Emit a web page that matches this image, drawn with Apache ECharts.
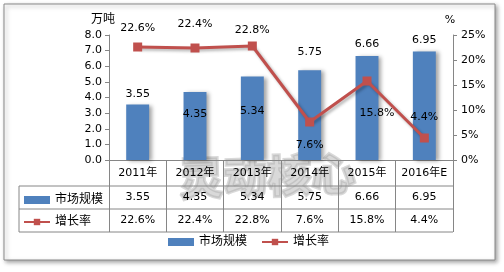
<!DOCTYPE html>
<html><head><meta charset="utf-8">
<script src="https://cdn.jsdelivr.net/npm/echarts@6/dist/echarts.min.js"></script>
<style>html,body{margin:0;padding:0;background:#fff}#c{width:504px;height:272px}</style>
</head><body><div id="c"></div>
<script>
const categories = ['2011年','2012年','2013年','2014年','2015年','2016年E'];
const marketSize = [3.55, 4.35, 5.34, 5.75, 6.66, 6.95];
const growthRate = [22.6, 22.4, 22.8, 7.6, 15.8, 4.4];
const seriesNames = ['市场规模', '增长率'];
const leftAxis = {min: 0, max: 8, interval: 1, name: '万吨'};
const rightAxis = {min: 0, max: 25, interval: 5, name: '%'};
const watermarkText = '灵动核心';

const FONT = '"DejaVu Sans", "Noto Sans CJK SC", sans-serif';
const BLUE = '#4F81BD', RED = '#C0504D', AX = '#868686';
const G = {left: 109, right: 51, top: 35, bottom: 112};

// label placement tweaks (styles, not data)
const barLabelPos = [
  {position: 'top', distance: 5},
  {position: 'insideTop', distance: 17},
  {position: 'insideTop', distance: 29},
  {position: 'top', distance: 13},
  {position: 'top', distance: 6},
  {position: 'top', distance: 6}
];
const lineLabelPos = [
  {position: 'top', distance: 9},
  {position: 'top', distance: 14},
  {position: 'top', distance: 6},
  {position: 'bottom', distance: 13},
  {position: 'bottom', distance: 22, offset: [10, 0]},
  {position: 'top', distance: 11}
];

const chart = echarts.init(document.getElementById('c'), null, {renderer: 'canvas'});
const txt = {fontFamily: FONT, fontSize: 11, color: '#000'};

chart.setOption({
  backgroundColor: '#fff',
  animation: false,
  textStyle: {fontFamily: FONT},
  grid: {left: G.left, right: G.right, top: G.top, bottom: G.bottom},
  legend: [
    {
      data: [{name: seriesNames[0], icon: 'rect'}, {name: seriesNames[1]}],
      left: 163, top: 231, itemWidth: 26, itemHeight: 8, itemGap: 14,
      textStyle: {fontFamily: FONT, fontSize: 12, color: '#000'}
    },
    {
      data: [{name: seriesNames[0], icon: 'rect'}, {name: seriesNames[1]}],
      orient: 'vertical', left: 18, top: 189, itemWidth: 26, itemHeight: 8, itemGap: 10,
      textStyle: {fontFamily: FONT, fontSize: 12, color: '#000'}
    }
  ],
  xAxis: {
    type: 'category', data: categories, boundaryGap: true,
    axisLine: {lineStyle: {color: AX}},
    axisTick: {show: true, length: 72, lineStyle: {color: AX}, alignWithLabel: false},
    axisLabel: Object.assign({margin: 8, interval: 0}, txt)
  },
  yAxis: [
    {
      type: 'value', min: leftAxis.min, max: leftAxis.max, interval: leftAxis.interval,
      name: leftAxis.name, nameLocation: 'end', nameGap: 9,
      nameTextStyle: {fontFamily: FONT, fontSize: 12, color: '#000', padding: [0, 12, 0, 0]},
      axisLine: {show: true, lineStyle: {color: AX}},
      axisTick: {show: true, length: 4, lineStyle: {color: AX}},
      splitLine: {show: false},
      axisLabel: Object.assign({margin: 7, formatter: v => v.toFixed(1)}, txt)
    },
    {
      type: 'value', min: rightAxis.min, max: rightAxis.max, interval: rightAxis.interval,
      name: rightAxis.name, nameLocation: 'end', nameGap: 9,
      nameTextStyle: {fontFamily: FONT, fontSize: 11, color: '#000', padding: [0, 6, 0, 0]},
      axisLine: {show: true, lineStyle: {color: AX}},
      axisTick: {show: true, length: 4, lineStyle: {color: AX}},
      splitLine: {show: false},
      axisLabel: Object.assign({margin: 8, formatter: v => v + '%'}, txt)
    }
  ],
  series: [
    {
      name: seriesNames[0], type: 'bar', barWidth: '40%', z: 2,
      itemStyle: {color: BLUE, shadowBlur: 4, shadowOffsetX: 3, shadowOffsetY: 1, shadowColor: 'rgba(0,0,0,0.35)'},
      data: marketSize.map((v, i) => ({
        value: v,
        label: Object.assign({show: true, formatter: p => p.value.toFixed(2)}, txt, barLabelPos[i])
      }))
    },
    {
      name: seriesNames[1], type: 'line', yAxisIndex: 1, z: 3,
      symbol: 'rect', symbolSize: 9,
      lineStyle: {color: RED, width: 3, shadowBlur: 3, shadowOffsetX: 2, shadowOffsetY: 2, shadowColor: 'rgba(0,0,0,0.3)'},
      itemStyle: {color: RED},
      data: growthRate.map((v, i) => ({
        value: v,
        label: Object.assign({show: true, formatter: p => p.value.toFixed(1) + '%'}, txt, lineLabelPos[i])
      }))
    }
  ]
});

// Build the data table and frame from the arrays, positioned through the axes
const n = categories.length;
const x0 = chart.convertToPixel({xAxisIndex: 0}, categories[0]);
const x1 = chart.convertToPixel({xAxisIndex: 0}, categories[1]);
const cw = x1 - x0;
const axisY = chart.convertToPixel({yAxisIndex: 0}, 0);
const tableLeft = 19;
const tableRight = x0 - cw / 2 + cw * n;
const rowTop = axisY + 26, rowH = 23;
const graphics = [];
graphics.push({type: 'rect', z: -100, shape: {x: 4, y: 4, width: 491, height: 256},
  style: {fill: '#fff', stroke: '#8a8a8a', lineWidth: 1, shadowBlur: 4, shadowOffsetX: 2, shadowOffsetY: 2, shadowColor: 'rgba(0,0,0,0.35)'}});
graphics.push({type: 'text', z: -50, x: (x0 + tableRight) / 2 - 28, y: axisY + 16, rotation: 0.03,
  style: {text: watermarkText, fontSize: 44, fontWeight: 900, fontFamily: '"Noto Sans CJK SC", sans-serif',
    fill: 'rgba(170,170,170,0.45)', stroke: 'rgba(170,170,170,0.45)', lineWidth: 3,
    align: 'center', verticalAlign: 'middle'}});
[0, 1, 2].forEach(k => {
  const y = rowTop + k * rowH;
  graphics.push({type: 'line', z: 10, shape: {x1: tableLeft, y1: y, x2: tableRight, y2: y}, style: {stroke: AX, lineWidth: 1}});
});
graphics.push({type: 'line', z: 10, shape: {x1: tableLeft, y1: rowTop, x2: tableLeft, y2: rowTop + 2 * rowH}, style: {stroke: AX, lineWidth: 1}});
const rows = [marketSize.map(v => v.toFixed(2)), growthRate.map(v => v.toFixed(1) + '%')];
rows.forEach((row, r) => {
  row.forEach((s, i) => {
    const cx = chart.convertToPixel({xAxisIndex: 0}, categories[i]);
    graphics.push({type: 'text', z: 10, x: cx, y: rowTop + r * rowH + rowH / 2,
      style: {text: s, fontFamily: FONT, fontSize: 11, fill: '#000', align: 'center', verticalAlign: 'middle'}});
  });
});
chart.setOption({graphic: graphics});
</script></body></html>
